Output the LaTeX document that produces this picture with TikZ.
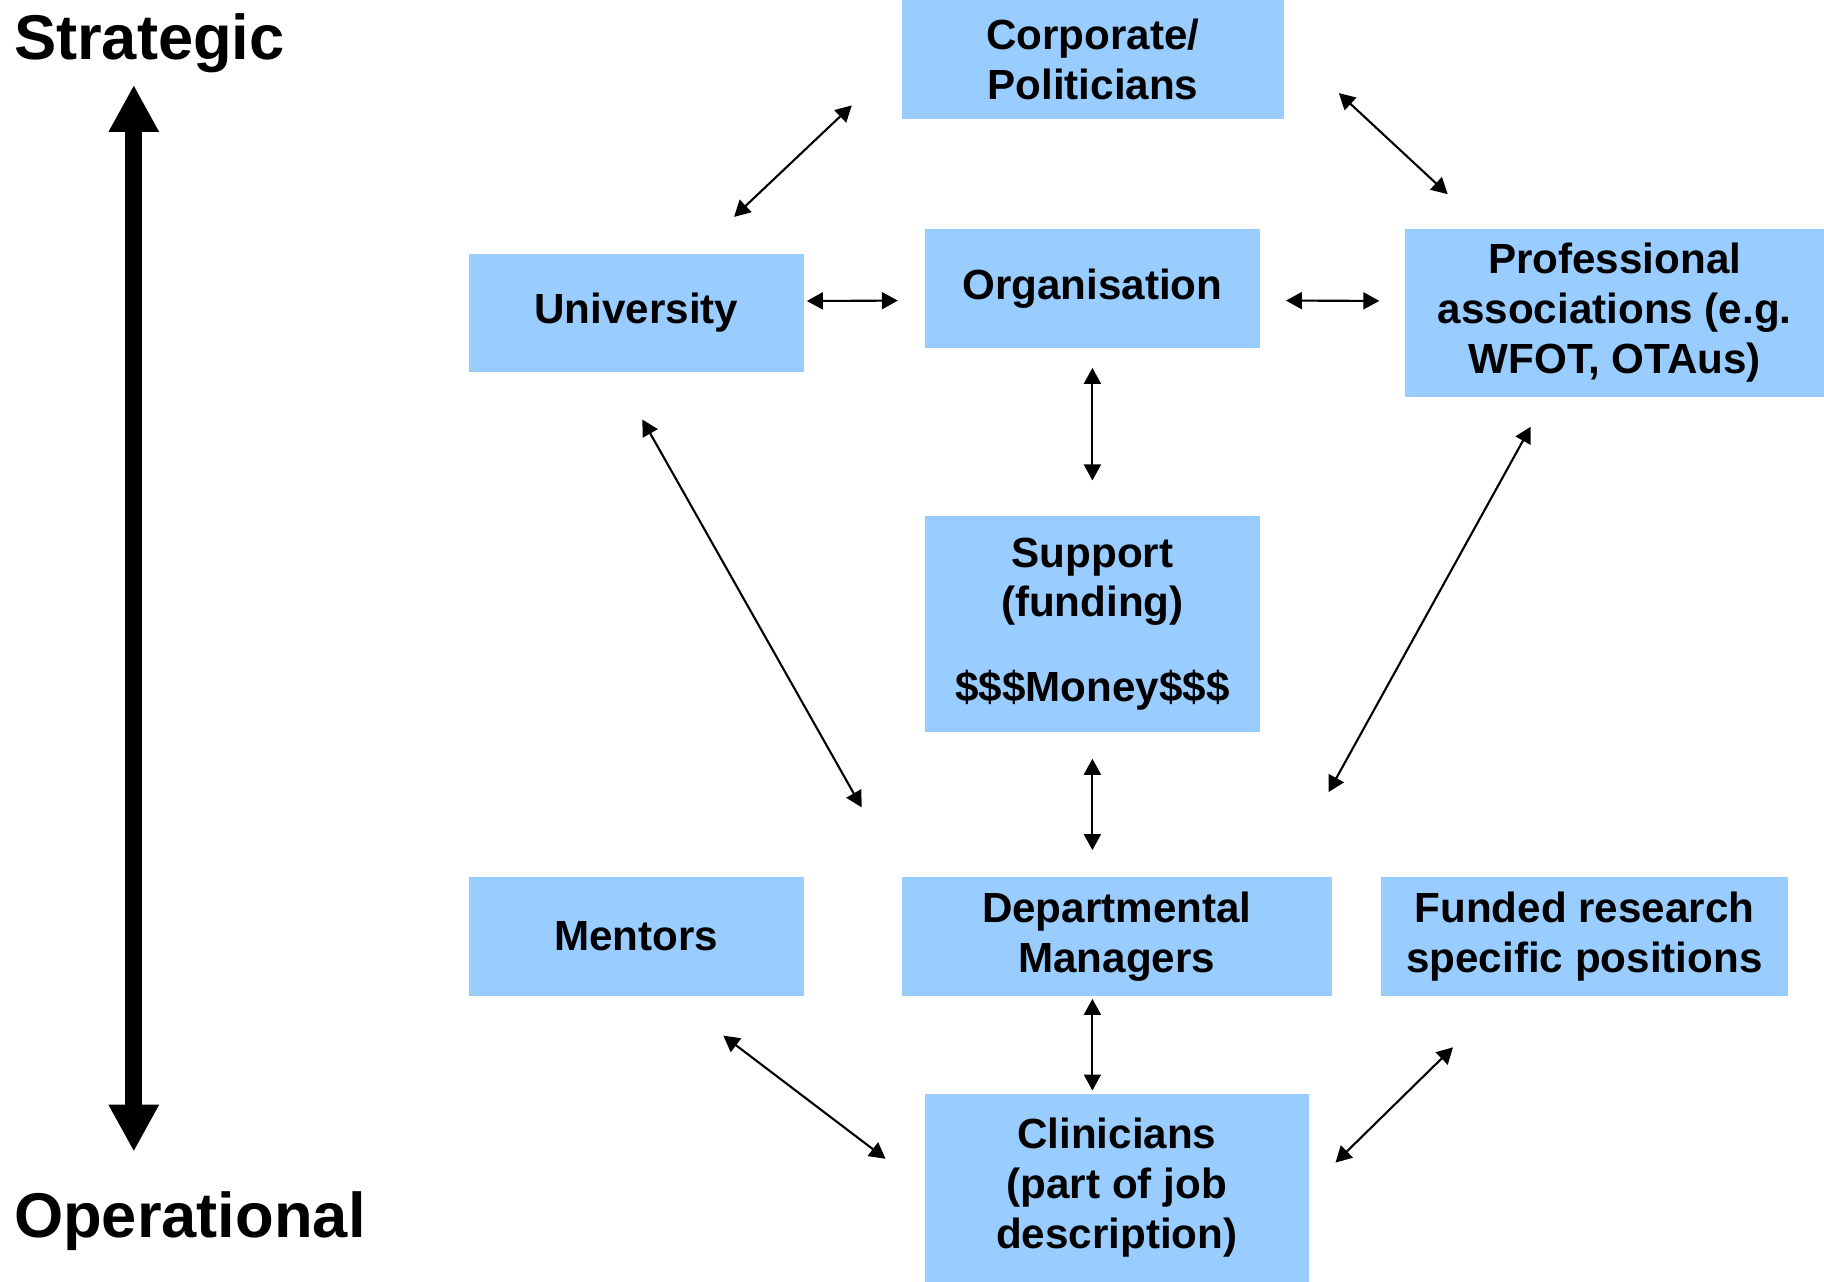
\documentclass[tikz,border=0pt]{standalone}
\usepackage{fontspec}
\setmainfont{Liberation Sans}
\usepackage{tikz}
\usetikzlibrary{arrows.meta}
\definecolor{boxblue}{RGB}{153,204,255}

\begin{document}
\begin{tikzpicture}[<->, >={Triangle[length=1.6mm,width=1.7mm]}, line width=0.6pt]
   \useasboundingbox (0,0) rectangle (18.24,-12.82);
   \tikzstyle{main}=[fill=boxblue, inner sep=0pt, align=center, minimum height=1.187cm, font=\fontsize{12}{14.2}\selectfont\bfseries]
   \tikzstyle{side}=[anchor=base west, inner sep=0pt, font=\fontsize{18}{21}\selectfont\bfseries]
   % strategic / operational scale
   \node[side] (strategic) at (0.13,-0.60) {Strategic};
   \node[side] (operational) at (0.13,-12.37) {Operational};
   \coordinate (top) at (1.338,-0.849);
   \coordinate (bottom) at (1.338,-11.517);
   \draw[line width=1.7mm, {Triangle[length=4.7mm,width=4.7mm]}-{Triangle[length=4.7mm,width=4.7mm]}] (top) -- (bottom);
   % boxes
   \node[main, minimum width=3.828cm] (corp) at (10.929,-0.594) {Corporate/\\Politicians};
   \node[main, minimum width=3.35cm] (univ) at (6.363,-3.130) {University};
   \node[main, minimum width=3.35cm] (org) at (10.924,-2.885) {Organisation};
   \node[main, minimum width=4.187cm, minimum height=1.675cm] (prof) at (16.147,-3.130) {Professional\\associations (e.g.\\WFOT, OTAus)};
   \node[main, minimum width=3.35cm, minimum height=2.152cm] (support) at (10.924,-6.241) {Support\\(funding)\\[3.5mm]\$\$\$Money\$\$\$};
   \node[main, minimum width=3.35cm] (mentors) at (6.363,-9.365) {Mentors};
   \node[main, minimum width=4.305cm] (managers) at (11.168,-9.365) {Departmental\\Managers};
   \node[main, minimum width=4.072cm] (funded) at (15.844,-9.365) {Funded research\\specific positions};
   \node[main, minimum width=3.839cm, minimum height=1.885cm] (clinicians) at (11.168,-11.878) {Clinicians\\(part of job\\description)};
   % links
   \path (corp.west) edge[shorten <=6.7mm, shorten >=5.2mm] ([xshift=6mm]univ.north);
   \path ([yshift=1.6mm]corp.east) edge[shorten <=7.3mm, shorten >=5mm] ([xshift=8mm]prof.north west);
   \path ([yshift=1.2mm]univ.east) edge[shorten <=0.2mm, shorten >=2.6mm] ([yshift=-1.2mm]org.west);
   \path ([yshift=-1.2mm]org.east) edge[shorten <=2.5mm, shorten >=2.5mm] ([yshift=1.2mm]prof.west);
   \path (org.south) edge[shorten <=1.9mm, shorten >=3.5mm] (support.north);
   \path ([xshift=-2mm]univ.south) edge[shorten <=5.3mm, shorten >=7.9mm] (managers.north west);
   \path ([xshift=-6.8mm]prof.south) edge[shorten <=3.3mm, shorten >=9.6mm] ([xshift=-5.1mm]managers.north east);
   \path (support.south) edge[shorten <=2.6mm, shorten >=2.6mm] (support.south |- managers.north);
   \path (managers.south -| support.south) edge[shorten <=0.2mm, shorten >=0.2mm] (clinicians.north -| support.south);
   \path ([xshift=3.6mm]mentors.south) edge[shorten <=6.4mm, shorten >=4.8mm] (clinicians.west);
   \path ([xshift=-8mm]funded.south) edge[shorten <=7.2mm, shorten >=3.6mm] (clinicians.east);
\end{tikzpicture}
\end{document}
